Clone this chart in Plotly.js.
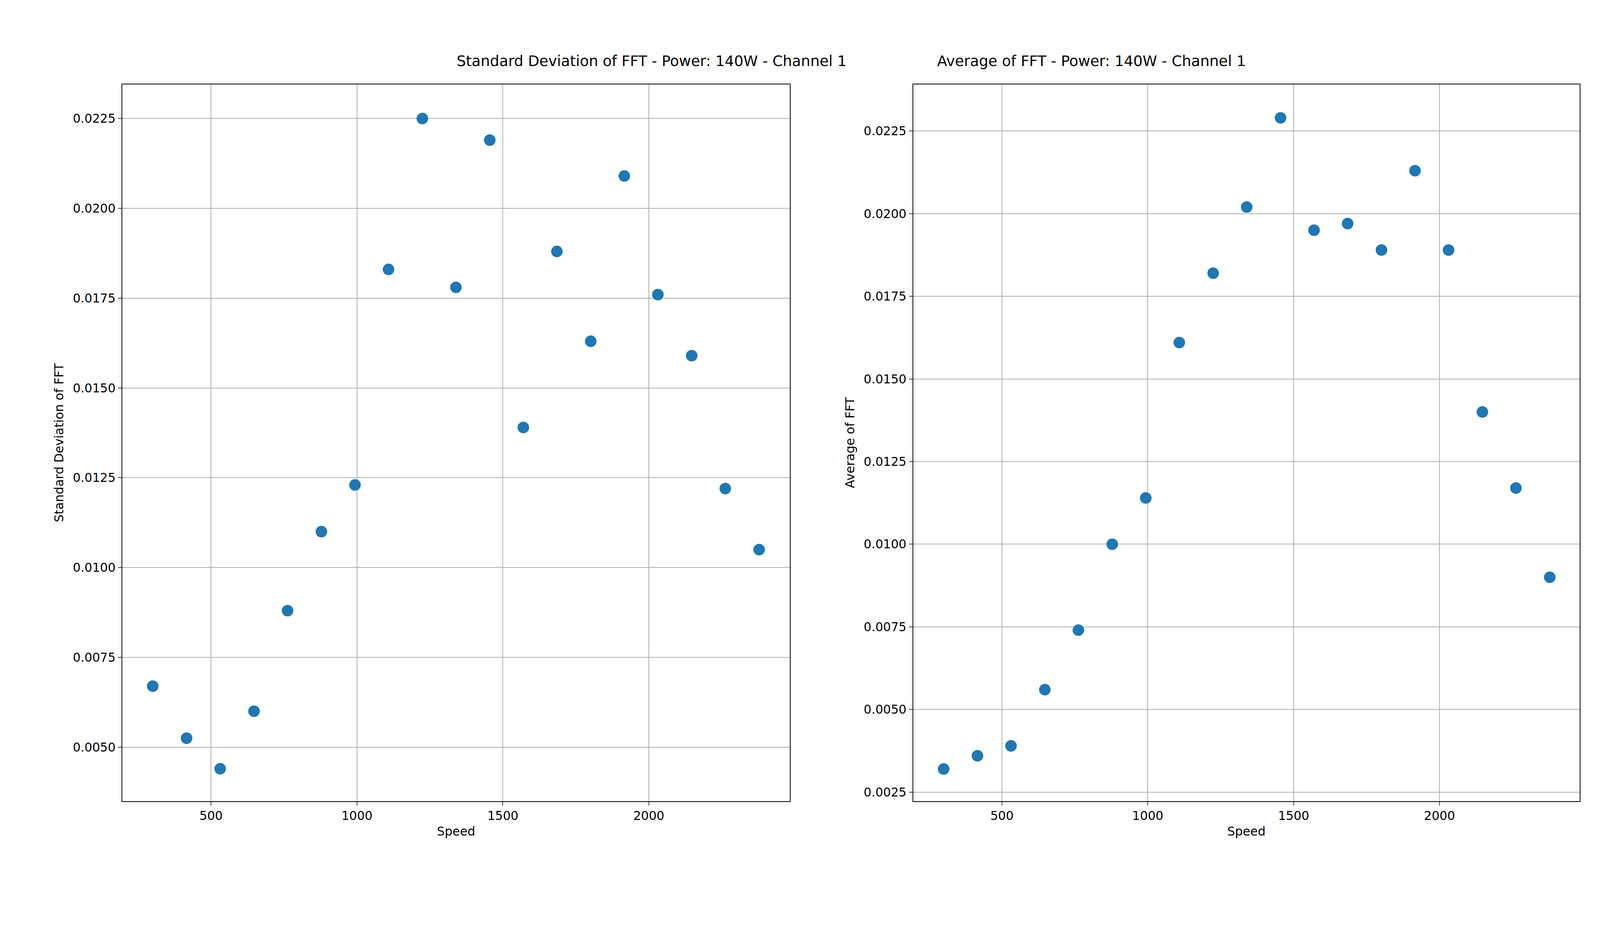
<!DOCTYPE html>
<html><head><script src="https://cdn.plot.ly/plotly-3.0.1.min.js"></script>
<style>html,body{margin:0;padding:0;overflow:hidden}</style></head>
<body><div id="c"></div>
<script>
const speed=[300,416,531,647,762,878,993,1108,1224,1339,1455,1570,1685,1801,1916,2031,2147,2262,2378];
const stdFFT=[0.0067,0.00525,0.0044,0.0060,0.0088,0.0110,0.0123,0.0183,0.0225,0.0178,0.0219,0.0139,0.0188,0.0163,0.0209,0.0176,0.0159,0.0122,0.0105];
const avgFFT=[0.0032,0.0036,0.0039,0.0056,0.0074,0.0100,0.0114,0.0161,0.0182,0.0202,0.0229,0.0195,0.0197,0.0189,0.0213,0.0189,0.0140,0.0117,0.0090];
const W=window.innerWidth, H=window.innerHeight, s=W/7200;
const f={family:'DejaVu Sans',size:55*s,color:'#000'};
const tf={family:'DejaVu Sans',size:66*s,color:'#000'};
const mk={color:'#1f77b4',size:52*s};
function ax(extra){return Object.assign({showgrid:true,gridcolor:'#b0b0b0',gridwidth:4*s,zeroline:false,showline:true,linecolor:'#000',linewidth:4*s,mirror:true,ticks:'outside',ticklen:16*s,tickwidth:4*s,tickfont:f},extra);}
Plotly.newPlot('c',[
{x:speed,y:stdFFT,mode:'markers',type:'scatter',marker:mk,xaxis:'x',yaxis:'y'},
{x:speed,y:avgFFT,mode:'markers',type:'scatter',marker:mk,xaxis:'x2',yaxis:'y2'}],
{width:W,height:H,showlegend:false,paper_bgcolor:'#fff',plot_bgcolor:'#fff',margin:{l:0,r:0,t:0,b:0},font:f,
xaxis:ax({domain:[0.0765,0.4936],range:[196,2483],dtick:500,title:{text:'Speed',font:f,standoff:20*s},anchor:'y'}),
yaxis:ax({domain:[0.146,0.910],range:[0.0035,0.02345],dtick:0.0025,tickformat:'.4f',title:{text:'Standard Deviation of FFT',font:f,standoff:25*s},anchor:'x'}),
xaxis2:ax({domain:[0.5708,0.9872],range:[196,2480],dtick:500,title:{text:'Speed',font:f,standoff:20*s},anchor:'y2'}),
yaxis2:ax({domain:[0.146,0.910],range:[0.00223,0.02391],dtick:0.0025,tickformat:'.4f',title:{text:'Average of FFT',font:f,standoff:25*s},anchor:'x2'}),
annotations:[
{text:'Standard Deviation of FFT - Power: 140W - Channel 1',xref:'paper',yref:'paper',x:0.285,y:0.925,yanchor:'bottom',showarrow:false,font:tf},
{text:'Average of FFT - Power: 140W - Channel 1',xref:'paper',yref:'paper',x:0.779,y:0.925,yanchor:'bottom',showarrow:false,font:tf}]
},{displayModeBar:false});
</script></body></html>
